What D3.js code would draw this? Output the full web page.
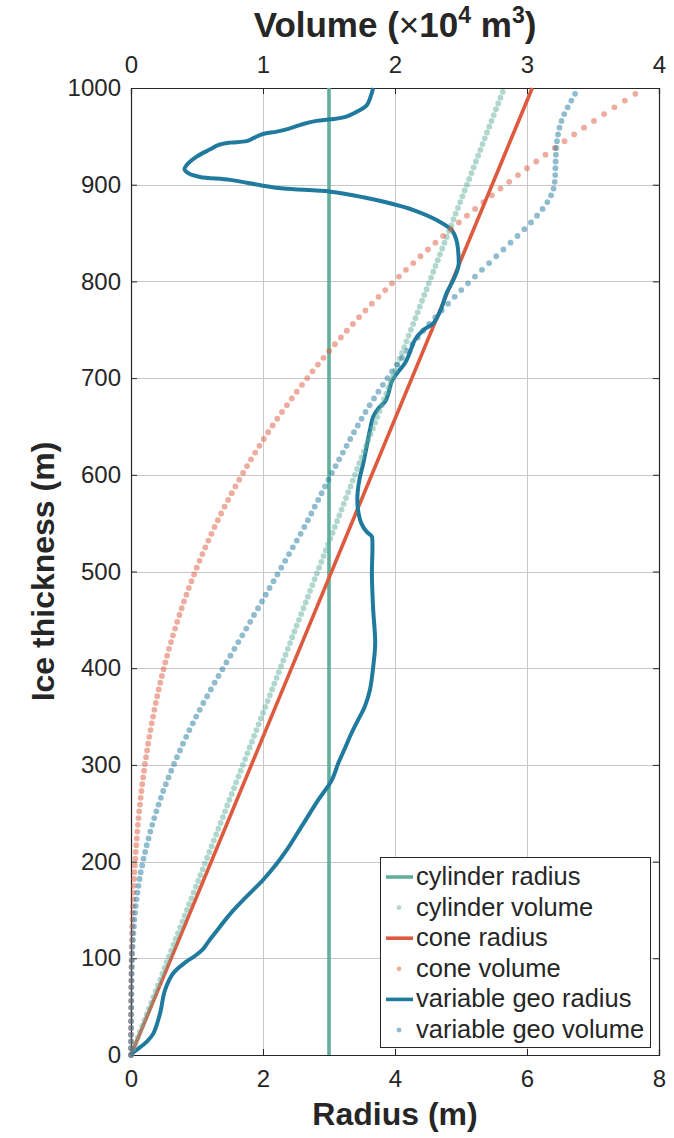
<!DOCTYPE html>
<html>
<head>
<meta charset="utf-8">
<script src="https://cdn.jsdelivr.net/npm/d3@7"></script>
<style>
  body { margin: 0; background: #fff; }
  text { font-family: "Liberation Sans", Arial, Helvetica, sans-serif; fill: #262626; }
</style>
</head>
<body>
<svg id="chart" width="674" height="1138"></svg>
<script>
// ---- axis ticks ----
const radiusTicks = [0, 2, 4, 6, 8];
const volumeTicks = [0, 1, 2, 3, 4];
const thicknessTicks = [0, 100, 200, 300, 400, 500, 600, 700, 800, 900, 1000];

// ---- cylinder (constant radius) ----
const cylinderRadiusDepths = [0, 1000];
const cylinderRadius = [3, 3];
const cylinderDepths = [0,6,12,18,24,30,36,42,48,54,60,66,72,78,84,90,96,102,108,114,120,126,132,138,144,150,156,162,168,174,180,186,192,198,204,210,216,222,228,234,240,246,252,258,264,270,276,282,288,294,300,306,312,318,324,330,336,342,348,354,360,366,372,378,384,390,396,402,408,414,420,426,432,438,444,450,456,462,468,474,480,486,492,498,504,510,516,522,528,534,540,546,552,558,564,570,576,582,588,594,600,606,612,618,624,630,636,642,648,654,660,666,672,678,684,690,696,702,708,714,720,726,732,738,744,750,756,762,768,774,780,786,792,798,804,810,816,822,828,834,840,846,852,858,864,870,876,882,888,894,900,906,912,918,924,930,936,942,948,954,960,966,972,978,984,990,996];
const cylinderVolume = [0,0.017,0.034,0.051,0.068,0.085,0.102,0.119,0.136,0.153,0.170,0.187,0.204,0.221,0.238,0.254,0.271,0.288,0.305,0.322,0.339,0.356,0.373,0.390,0.407,0.424,0.441,0.458,0.475,0.492,0.509,0.526,0.543,0.560,0.577,0.594,0.611,0.628,0.645,0.662,0.679,0.696,0.713,0.729,0.746,0.763,0.780,0.797,0.814,0.831,0.848,0.865,0.882,0.899,0.916,0.933,0.950,0.967,0.984,1.001,1.018,1.035,1.052,1.069,1.086,1.103,1.120,1.137,1.154,1.171,1.188,1.205,1.221,1.238,1.255,1.272,1.289,1.306,1.323,1.340,1.357,1.374,1.391,1.408,1.425,1.442,1.459,1.476,1.493,1.510,1.527,1.544,1.561,1.578,1.595,1.612,1.629,1.646,1.663,1.680,1.697,1.713,1.730,1.747,1.764,1.781,1.798,1.815,1.832,1.849,1.866,1.883,1.900,1.917,1.934,1.951,1.968,1.985,2.002,2.019,2.036,2.053,2.070,2.087,2.104,2.121,2.138,2.155,2.172,2.188,2.205,2.222,2.239,2.256,2.273,2.290,2.307,2.324,2.341,2.358,2.375,2.392,2.409,2.426,2.443,2.460,2.477,2.494,2.511,2.528,2.545,2.562,2.579,2.596,2.613,2.630,2.647,2.663,2.680,2.697,2.714,2.731,2.748,2.765,2.782,2.799,2.816];

// ---- cone ----
const coneRadiusDepths = [0, 1000];
const coneRadius = [0, 6.08];

// depths sampled for the cone and variable-geometry volumes
const volumeDepths = [0,7,14,21,28,35,42,49,56,63,70,77,84,91,98,105,112,119,126,133,140,147,154,161,168,175,182,189,196,203,210,217,224,231,238,245,252,259,266,273,280,287,294,301,308,315,322,329,336,343,350,357,364,371,378,385,392,399,406,413,420,427,434,441,448,455,462,469,476,483,490,497,504,511,518,525,532,539,546,553,560,567,574,581,588,595,602,609,616,623,630,637,644,651,658,665,672,679,686,693,700,707,714,721,728,735,742,749,756,763,770,777,784,791,798,805,812,819,826,833,840,847,854,861,868,875,882,889,896,903,910,917,924,931,938,945,952,959,966,973,980,987,994];
const coneVolume = [0,0,0,0,0,0,0,0,
  0.001,0.001,0.001,0.002,0.002,0.003,0.004,0.005,
  0.005,0.007,0.008,0.009,0.011,0.012,0.014,0.016,
  0.018,0.021,0.023,0.026,0.029,0.033,0.036,0.040,
  0.044,0.048,0.052,0.057,0.062,0.068,0.073,0.079,
  0.085,0.092,0.099,0.106,0.114,0.122,0.130,0.139,
  0.148,0.157,0.167,0.177,0.188,0.199,0.210,0.222,
  0.234,0.247,0.260,0.274,0.288,0.303,0.318,0.334,
  0.350,0.367,0.384,0.401,0.420,0.438,0.458,0.478,
  0.498,0.519,0.541,0.563,0.586,0.609,0.633,0.658,
  0.683,0.709,0.736,0.763,0.791,0.820,0.849,0.879,
  0.909,0.941,0.973,1.006,1.039,1.073,1.108,1.144,
  1.181,1.218,1.256,1.295,1.335,1.375,1.416,1.458,
  1.501,1.545,1.590,1.635,1.681,1.728,1.776,1.825,
  1.875,1.926,1.977,2.030,2.083,2.138,2.193,2.249,
  2.306,2.364,2.423,2.484,2.545,2.607,2.670,2.734,
  2.799,2.865,2.932,3.000,3.070,3.140,3.211,3.284,
  3.357,3.432,3.507,3.584,3.662,3.741,3.821];

// ---- variable geometry ----
const variableRadiusDepths = [0,2.4,5.2,13.8,22.4,43,67,84.5,96.5,102,108.6,116,125.8,146.5,163.7,181,198,212,238,264,284,301.6,317,332.7,346.4,360,377.5,401.6,425.7,460,494.6,536,537.7,541.2,549.8,563.6,577.4,594.6,612,629,646.3,660,668.8,675.6,684.3,696.4,705,715.3,727.4,739.4,749.7,756.6,770,787.7,801,815,829,842.8,853,863.5,873.8,880,887,892.8,896,899,905,908,911.8,916,920,929,936.6,941,943.5,945,949,952.4,954.9,958.3,962.8,966,967.6,969.6,975.5,982,991,1000];
const variableRadius = [0,0.03,0.085,0.24,0.34,0.44,0.515,0.64,0.84,0.96,1.08,1.16,1.27,1.51,1.75,2.0,2.21,2.36,2.60,2.84,3.04,3.14,3.24,3.34,3.44,3.54,3.62,3.67,3.70,3.67,3.65,3.65,3.63,3.57,3.49,3.44,3.43,3.46,3.52,3.57,3.62,3.67,3.75,3.85,3.90,3.95,4.03,4.15,4.23,4.30,4.43,4.58,4.69,4.78,4.88,4.96,4.96,4.93,4.86,4.63,4.28,3.97,3.52,3.02,2.31,2.0,1.5,1.045,0.87,0.81,0.84,0.995,1.2,1.32,1.5,1.75,1.88,2.0,2.21,2.41,2.61,2.81,3.02,3.22,3.42,3.57,3.63,3.67];
const variableVolume = [0,0,0,0,0.001,0.001,0.001,0.002,
  0.002,0.003,0.003,0.004,0.005,0.006,0.007,0.009,
  0.012,0.015,0.018,0.022,0.026,0.031,0.036,0.042,
  0.049,0.057,0.065,0.074,0.085,0.095,0.107,0.119,
  0.133,0.146,0.161,0.176,0.192,0.209,0.226,0.244,
  0.264,0.284,0.305,0.326,0.348,0.371,0.394,0.418,
  0.442,0.468,0.494,0.521,0.548,0.577,0.605,0.634,
  0.663,0.693,0.723,0.753,0.783,0.813,0.843,0.873,
  0.903,0.932,0.962,0.992,1.021,1.050,1.080,1.109,
  1.138,1.168,1.197,1.226,1.256,1.285,1.313,1.340,
  1.366,1.392,1.418,1.444,1.470,1.496,1.523,1.550,
  1.577,1.605,1.633,1.661,1.689,1.718,1.747,1.777,
  1.808,1.841,1.874,1.908,1.942,1.978,2.015,2.053,
  2.092,2.132,2.172,2.214,2.259,2.305,2.353,2.402,
  2.452,2.502,2.553,2.606,2.659,2.713,2.767,2.821,
  2.875,2.928,2.980,3.030,3.076,3.118,3.154,3.182,
  3.201,3.210,3.214,3.215,3.217,3.219,3.222,3.227,
  3.235,3.246,3.261,3.282,3.308,3.336,3.364];

// ---- legend ----
const legendLabels = ["cylinder radius", "cylinder volume", "cone radius", "cone volume", "variable geo radius", "variable geo volume"];

// ---- layout ----
const plot = { left: 131, right: 659, top: 88, bottom: 1055 };
const colors = { cylinder: "#62b09c", cone: "#de5a3f", variable: "#1f7a9e" };
const dotOpacity = 0.5;

const svg = d3.select("#chart");
const xR = d3.scaleLinear().domain([0, 8]).range([plot.left, plot.right]);
const xV = d3.scaleLinear().domain([0, 4]).range([plot.left, plot.right]);
const y = d3.scaleLinear().domain([0, 1000]).range([plot.bottom, plot.top]);

// grid
const grid = svg.append("g").attr("stroke", "#c8c8c8").attr("stroke-width", 1);
radiusTicks.slice(1, -1).forEach(t => grid.append("line")
  .attr("x1", Math.round(xR(t)) + 0.5).attr("x2", Math.round(xR(t)) + 0.5)
  .attr("y1", plot.top).attr("y2", plot.bottom));
thicknessTicks.slice(1, -1).forEach(t => grid.append("line")
  .attr("y1", Math.round(y(t)) + 0.5).attr("y2", Math.round(y(t)) + 0.5)
  .attr("x1", plot.left).attr("x2", plot.right));

// axes
const tickFont = "24px";
const axisBottom = svg.append("g").attr("transform", `translate(0,${plot.bottom})`)
  .call(d3.axisBottom(xR).tickValues(radiusTicks).tickSize(-6).tickPadding(15).tickFormat(d3.format("d")));
const axisTop = svg.append("g").attr("transform", `translate(0,${plot.top})`)
  .call(d3.axisTop(xV).tickValues(volumeTicks).tickSize(-6).tickPadding(15).tickFormat(d3.format("d")));
const axisLeft = svg.append("g").attr("transform", `translate(${plot.left},0)`)
  .call(d3.axisLeft(y).tickValues(thicknessTicks).tickSize(-6).tickPadding(10).tickFormat(d3.format("d")));
const axisRight = svg.append("g").attr("transform", `translate(${plot.right},0)`)
  .call(d3.axisRight(y).tickValues(thicknessTicks).tickSize(-6).tickFormat(""));
[axisBottom, axisTop, axisLeft, axisRight].forEach(g => {
  g.select(".domain").attr("stroke", "#262626").attr("stroke-width", 1.2);
  g.selectAll(".tick line").attr("stroke", "#262626");
  g.selectAll(".tick text").style("font-size", tickFont).attr("fill", "#262626")
    .style("font-family", '"Liberation Sans", Arial, sans-serif');
});
axisRight.selectAll(".tick text").remove();

// radius lines
const radiusLine = d3.line().x(d => xR(d[1])).y(d => y(d[0]));
svg.append("path").datum(d3.zip(cylinderRadiusDepths, cylinderRadius))
  .attr("d", radiusLine).attr("fill", "none").attr("stroke", colors.cylinder).attr("stroke-width", 3.6);
svg.append("path").datum(d3.zip(coneRadiusDepths, coneRadius))
  .attr("d", radiusLine).attr("fill", "none").attr("stroke", colors.cone).attr("stroke-width", 3.6);
svg.append("path").datum(d3.zip(variableRadiusDepths, variableRadius))
  .attr("d", radiusLine.curve(d3.curveCatmullRom.alpha(0.5)))
  .attr("fill", "none").attr("stroke", colors.variable).attr("stroke-width", 4)
  .attr("stroke-linejoin", "round");

// volume dots
function dots(depths, values, color) {
  svg.append("g").selectAll("circle").data(d3.zip(depths, values)).join("circle")
    .attr("cx", d => xV(d[1])).attr("cy", d => y(d[0])).attr("r", 2.9)
    .attr("fill", color).attr("fill-opacity", dotOpacity);
}
dots(cylinderDepths, cylinderVolume, colors.cylinder);
dots(volumeDepths, coneVolume, colors.cone);
dots(volumeDepths, variableVolume, colors.variable);

// axis titles
const titleStyle = (t, size) => t.attr("font-weight", "bold").style("font-size", size).attr("text-anchor", "middle");
svg.append("text").attr("x", (plot.left + plot.right) / 2).attr("y", 1125).call(titleStyle, "32px").text("Radius (m)");
svg.append("text").attr("transform", `translate(54,${(plot.top + plot.bottom) / 2}) rotate(-90)`)
  .call(titleStyle, "32px").text("Ice thickness (m)");
const vt = svg.append("text").attr("x", (plot.left + plot.right) / 2).attr("y", 37).call(titleStyle, "35px");
vt.append("tspan").text("Volume (");
vt.append("tspan").attr("font-weight", "normal").text("×");
vt.append("tspan").text("10");
vt.append("tspan").attr("dy", -14).style("font-size", "23px").text("4");
vt.append("tspan").attr("dy", 14).text(" m");
vt.append("tspan").attr("dy", -14).style("font-size", "23px").text("3");
vt.append("tspan").attr("dy", 14).text(")");

// legend
const lg = svg.append("g");
lg.append("rect").attr("x", 380.5).attr("y", 857.5).attr("width", 270).attr("height", 190)
  .attr("fill", "#fff").attr("stroke", "#262626").attr("stroke-width", 1);
const legendKinds = [
  { color: colors.cylinder, line: true }, { color: colors.cylinder, line: false },
  { color: colors.cone, line: true }, { color: colors.cone, line: false },
  { color: colors.variable, line: true }, { color: colors.variable, line: false }
];
legendLabels.forEach((label, i) => {
  const cy = 877 + i * 30.6;
  const k = legendKinds[i];
  if (k.line) {
    lg.append("line").attr("x1", 386).attr("x2", 413).attr("y1", cy).attr("y2", cy)
      .attr("stroke", k.color).attr("stroke-width", 3.6);
  } else {
    lg.append("circle").attr("cx", 399).attr("cy", cy).attr("r", 2.4)
      .attr("fill", k.color).attr("fill-opacity", dotOpacity);
  }
  lg.append("text").attr("x", 416).attr("y", cy + 8).style("font-size", "25.5px").text(label);
});
</script>
</body>
</html>
